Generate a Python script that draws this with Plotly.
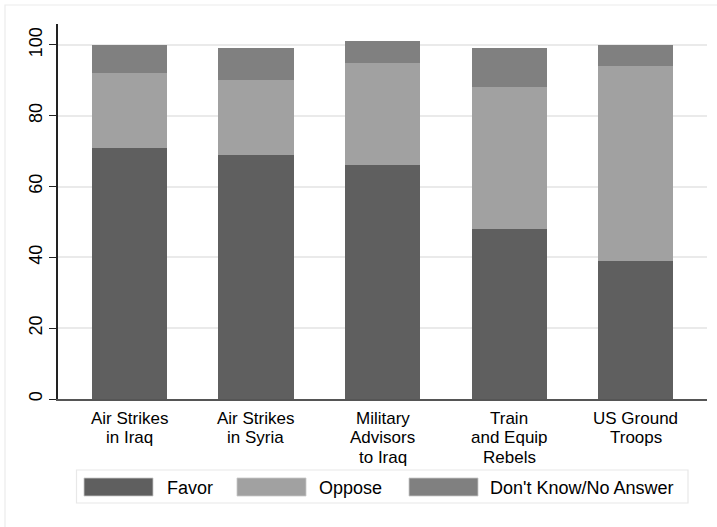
import plotly.graph_objects as go

categories = ["Air Strikes<br>in Iraq", "Air Strikes<br>in Syria", "Military<br>Advisors<br>to Iraq",
              "Train<br>and Equip<br>Rebels", "US Ground<br>Troops"]
favor = [71, 69, 66, 48, 39]
oppose = [21, 21, 29, 40, 55]
dont_know = [8, 9, 6, 11, 6]
series_names = ["Favor", "Oppose", "Don't Know/No Answer"]
series_colors = ["#5f5f5f", "#a1a1a1", "#808080"]
y_ticks = [0, 20, 40, 60, 80, 100]

W, H = 717, 527
L, R, T, B = 58, 10, 24, 128
PW, PH = W - L - R, H - T - B
FONT = "Liberation Sans, Arial, sans-serif"

def px_x(p):
    return (p - L) / PW

def px_y(p):
    return (H - B - p) / PH

xs = list(range(len(categories)))
fig = go.Figure()
for name, vals, col in zip(series_names, [favor, oppose, dont_know], series_colors):
    fig.add_trace(go.Bar(x=xs, y=vals, name=name, marker=dict(color=col, line=dict(width=0)),
                         width=0.593, showlegend=False))

annotations = []
for i, lab in enumerate(categories):
    for j, line in enumerate(lab.split("<br>")):
        annotations.append(dict(x=i, xref="x", y=px_y(418 + j * 19.8), yref="paper",
                                text=line, showarrow=False, xanchor="center", yanchor="middle",
                                font=dict(family=FONT, size=17, color="#000")))

shapes = [
    # outer frame
    dict(type="rect", xref="paper", yref="paper", x0=px_x(5), x1=px_x(760), y0=px_y(560), y1=px_y(5),
         line=dict(color="#ececec", width=1.2), fillcolor="rgba(0,0,0,0)", layer="below"),
    # legend box
    dict(type="rect", xref="paper", yref="paper", x0=px_x(76.5), x1=px_x(688), y0=px_y(503), y1=px_y(470),
         line=dict(color="#e8e8e8", width=1.2), fillcolor="white"),
]
leg_sym_x = [84, 237, 409]
leg_txt_x = [165, 317, 488]
for k, name in enumerate(series_names):
    shapes.append(dict(type="rect", xref="paper", yref="paper",
                       x0=px_x(leg_sym_x[k]), x1=px_x(leg_sym_x[k] + 69),
                       y0=px_y(496), y1=px_y(478),
                       line=dict(color="#c8c8c8", width=0.8), fillcolor=series_colors[k]))
    annotations.append(dict(x=px_x(leg_txt_x[k]), xref="paper", y=px_y(487.5), yref="paper",
                            text=name, showarrow=False, xanchor="left", yanchor="middle",
                            font=dict(family=FONT, size=18, color="#000")))

fig.update_layout(
    width=W, height=H, margin=dict(l=L, r=R, t=T, b=B),
    paper_bgcolor="white", plot_bgcolor="white",
    barmode="stack", bargap=0,
    font=dict(family=FONT, size=18, color="#000"),
    xaxis=dict(range=[-0.565, 4.565], showticklabels=False, ticks="", showgrid=False,
               showline=True, linecolor="#555555", linewidth=1.5, zeroline=False, fixedrange=True),
    yaxis=dict(range=[0, 105.9], tickvals=y_ticks, ticktext=[str(v) for v in y_ticks],
               tickangle=-90, ticks="outside", ticklen=7, tickwidth=1.2, tickcolor="#222",
               showgrid=True, gridcolor="#eaeaea", gridwidth=1.5,
               showline=True, linecolor="#222", linewidth=1.5, zeroline=False,
               tickfont=dict(family=FONT, size=18, color="#000")),
    annotations=annotations, shapes=shapes,
)
fig.write_html("out.html", config={"displayModeBar": False},
               post_script="document.body.style.margin='0';document.body.style.overflow='hidden';")
